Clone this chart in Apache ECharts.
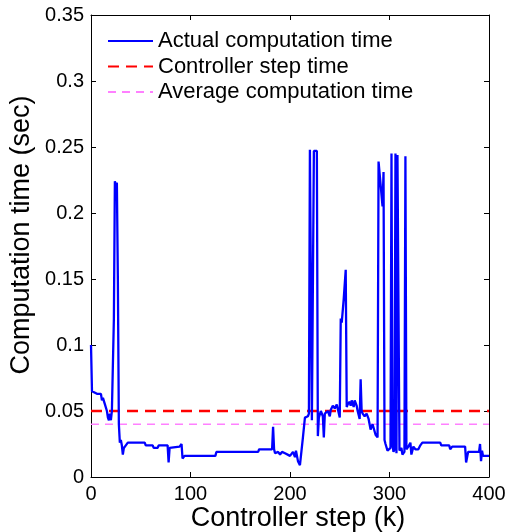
<!DOCTYPE html>
<html>
<head>
<meta charset="utf-8">
<script src="https://cdn.jsdelivr.net/npm/echarts@6/dist/echarts.min.js"></script>
<style>html,body{margin:0;padding:0;background:#fff}#c{width:507px;height:532px}</style>
</head>
<body>
<div id="c"></div>
<script>
var steps = [0,1,3,6,8,10,11,12,14,16,17,18,19,20,21,23,24,25,26,27,28,29,30,31,32,33,35,37,54,55,62,63,67,68,77,78,79,89,91,92,94,125,126,168,169,182,183,184,185,188,190,192,195,197,200,203,205,206,208,210,211,213,215,218,219,220,221,222,223,224,227,228,229,231,232,233,234,235,236,238,240,241,243,245,247,249,250,251,252,254,256,257,258,260,261,262,264,265,267,268,270,271,272,273,275,277,279,281,283,286,288,289,290,293,294,295,296,298,300,301,302,303,304,305,306,307,308,309,310,312,313,315,316,317,319,320,321,322,324,326,329,331,333,351,352,360,361,363,376,377,379,390,391,392,393,394,400];
var computeTime = [0.100,0.065,0.064,0.063,0.062,0.063,0.058,0.060,0.055,0.050,0.045,0.043,0.048,0.043,0.050,0.120,0.224,0.220,0.223,0.150,0.040,0.026,0.028,0.024,0.017,0.022,0.024,0.026,0.026,0.024,0.024,0.022,0.022,0.024,0.024,0.011,0.022,0.023,0.025,0.014,0.016,0.016,0.019,0.019,0.021,0.021,0.038,0.021,0.018,0.019,0.017,0.019,0.018,0.019,0.016,0.019,0.015,0.020,0.012,0.009,0.010,0.030,0.045,0.046,0.048,0.248,0.248,0.043,0.042,0.247,0.247,0.031,0.045,0.050,0.049,0.046,0.030,0.048,0.047,0.050,0.046,0.051,0.054,0.052,0.055,0.054,0.045,0.120,0.117,0.135,0.157,0.053,0.055,0.057,0.054,0.058,0.053,0.058,0.054,0.050,0.044,0.074,0.050,0.048,0.046,0.048,0.044,0.036,0.040,0.032,0.030,0.239,0.238,0.205,0.231,0.028,0.025,0.020,0.020,0.022,0.245,0.025,0.019,0.021,0.245,0.018,0.244,0.243,0.020,0.022,0.017,0.019,0.243,0.021,0.023,0.022,0.026,0.017,0.023,0.021,0.021,0.024,0.026,0.026,0.024,0.024,0.021,0.023,0.023,0.011,0.019,0.019,0.025,0.012,0.020,0.016,0.016];
var controllerStepTime = 0.05;
var averageComputeTime = 0.04;
var xRange = [0, 400];
var xTicks = [0, 100, 200, 300, 400];
var yTicks = [0, 0.05, 0.1, 0.15, 0.2, 0.25, 0.3, 0.35];
var seriesNames = ['Actual computation time', 'Controller step time', 'Average computation time'];

var actual = steps.map(function (k, i) { return [k, computeTime[i]]; });
var ctrl = xRange.map(function (k) { return [k, controllerStepTime]; });
var avg = xRange.map(function (k) { return [k, averageComputeTime]; });

var FONT = 'Liberation Sans, Arial, sans-serif';
var chart = echarts.init(document.getElementById('c'), null, {renderer: 'canvas'});
function axisCommon() {
  return {
    axisLine: {show: true, onZero: false, lineStyle: {color: '#000', width: 1}},
    axisTick: {show: true, inside: true, length: 5, lineStyle: {color: '#000'}},
    splitLine: {show: false}
  };
}
chart.setOption({
  animation: false,
  backgroundColor: '#fff',
  grid: {left: 91, right: 18, top: 15, bottom: 55, containLabel: false, outerBoundsMode: 'none'},
  legend: {
    orient: 'vertical', left: 102, top: 25,
    itemWidth: 45, itemHeight: 14, itemGap: 3.5,
    data: seriesNames,
    itemStyle: {opacity: 0},
    textStyle: {fontFamily: FONT, fontSize: 22, color: '#000', padding: [0, 0, 0, 0]}
  },
  xAxis: [
    Object.assign({type: 'value', min: xRange[0], max: xRange[1], interval: 100,
      name: 'Controller step (k)', nameLocation: 'middle', nameGap: 28, nameMoveOverlap: false,
      nameTextStyle: {fontFamily: FONT, fontSize: 27, color: '#000', padding: [0, 0, 0, 16]},
      axisLabel: {fontFamily: FONT, fontSize: 20, color: '#000', margin: 7,
        formatter: function (v) { return xTicks.indexOf(v) >= 0 ? String(v) : ''; }}}, axisCommon()),
    Object.assign({type: 'value', position: 'top', min: xRange[0], max: xRange[1], interval: 100,
      axisLabel: {show: false}}, axisCommon())
  ],
  yAxis: [
    Object.assign({type: 'value', min: 0, max: 0.35, interval: 0.05,
      name: 'Computation time (sec)', nameLocation: 'middle', nameGap: 56, nameMoveOverlap: false,
      nameTextStyle: {fontFamily: FONT, fontSize: 27, color: '#000', padding: [0, 0, 0, 22]},
      axisLabel: {fontFamily: FONT, fontSize: 20, color: '#000', margin: 7,
        formatter: function (v) { var r = Math.round(v * 100) / 100; return yTicks.indexOf(r) >= 0 ? String(r) : ''; }}}, axisCommon()),
    Object.assign({type: 'value', position: 'right', min: 0, max: 0.35, interval: 0.05,
      axisLabel: {show: false}}, axisCommon())
  ],
  series: [
    {name: seriesNames[0], type: 'line', data: actual, symbol: 'none', color: '#0000ff',
      lineStyle: {color: '#0000ff', width: 2.3}, z: 3},
    {name: seriesNames[1], type: 'line', data: ctrl, symbol: 'none', color: '#ff0000',
      lineStyle: {color: '#ff0000', width: 2.5, type: [11, 7]}, z: 2},
    {name: seriesNames[2], type: 'line', data: avg, symbol: 'none', color: '#ff80ff',
      lineStyle: {color: '#ff80ff', width: 1.5, type: [8, 6]}, z: 2}
  ]
});
</script>
</body>
</html>
